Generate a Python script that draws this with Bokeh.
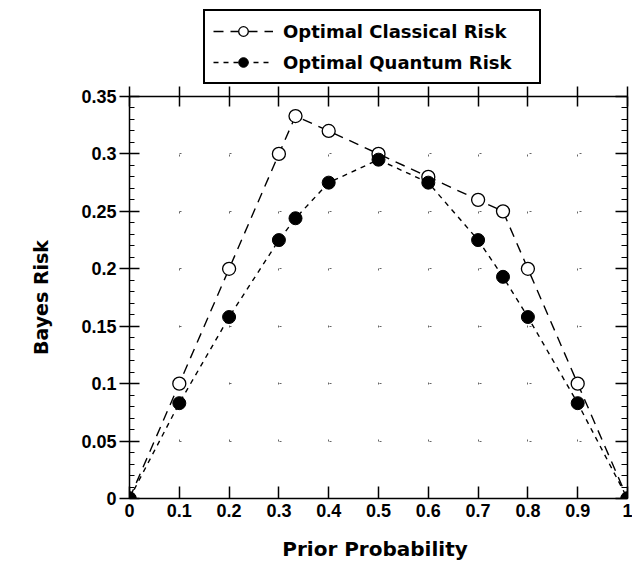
from bokeh.plotting import figure
from bokeh.layouts import column
from bokeh.models import Range1d, LinearAxis, FixedTicker, Legend, LegendItem
from bokeh.embed import file_html
from bokeh.resources import INLINE

# ---- data ----
prior = [0.0, 0.1, 0.2, 0.3, 1/3, 0.4, 0.5, 0.6, 0.7, 0.75, 0.8, 0.9, 1.0]
classical_risk = [0.0, 0.100, 0.200, 0.300, 0.333, 0.320, 0.300, 0.280, 0.260, 0.250, 0.200, 0.100, 0.0]
quantum_risk = [0.0, 0.083, 0.158, 0.225, 0.244, 0.275, 0.295, 0.275, 0.225, 0.193, 0.158, 0.083, 0.0]

x_ticks = [0.0, 0.1, 0.2, 0.3, 0.4, 0.5, 0.6, 0.7, 0.8, 0.9, 1.0]
x_tick_labels = ["0", "0.1", "0.2", "0.3", "0.4", "0.5", "0.6", "0.7", "0.8", "0.9", "1"]
y_ticks = [0.0, 0.05, 0.1, 0.15, 0.2, 0.25, 0.3, 0.35]
y_tick_labels = ["0", "0.05", "0.1", "0.15", "0.2", "0.25", "0.3", "0.35"]
y_minor_ticks = [i / 100 for i in range(0, 36)]

series_names = ["Optimal Classical Risk", "Optimal Quantum Risk"]

TICK_FONT = "Liberation Sans"
LABEL_FONT = "DejaVu Sans"

CLASSICAL_STYLE = dict(line_color="black", line_width=1.4, line_dash="10 7")
QUANTUM_STYLE = dict(line_color="black", line_width=1.4, line_dash="5 5")
CLASSICAL_MARK = dict(marker="circle", size=13, fill_color="white", line_color="black", line_width=1.3)
QUANTUM_MARK = dict(marker="circle", size=13, fill_color="black", line_color="black")

LEG_H = 84

# ---- legend strip (separate figure above the plot; series kept out of view) ----
pl = figure(width=632, height=LEG_H, output_backend="svg", toolbar_location=None,
            x_range=Range1d(0, 1), y_range=Range1d(5, 6),
            x_axis_location=None, y_axis_location=None,
            min_border_top=0, min_border_bottom=0,
            background_fill_color="white", border_fill_color="white")
pl.outline_line_color = None
pl.xgrid.visible = False
pl.ygrid.visible = False
lc_line = pl.line(prior, classical_risk, **CLASSICAL_STYLE)
lc_pts = pl.scatter(prior, classical_risk, **CLASSICAL_MARK)
lq_line = pl.line(prior, quantum_risk, **QUANTUM_STYLE)
lq_pts = pl.scatter(prior, quantum_risk, **QUANTUM_MARK)
legend = Legend(items=[LegendItem(label=series_names[0], renderers=[lc_line, lc_pts]),
                       LegendItem(label=series_names[1], renderers=[lq_line, lq_pts])],
                location=(74, 0), orientation="vertical",
                border_line_color="black", border_line_width=2.5, border_line_alpha=1.0,
                label_text_font=LABEL_FONT, label_text_font_style="bold",
                label_text_font_size="18px", label_text_color="black",
                glyph_width=60, glyph_height=24, label_standoff=10, label_width=248,
                spacing=7, padding=8, margin=0,
                background_fill_color="white", background_fill_alpha=1.0)
pl.add_layout(legend, "center")

# ---- main plot ----
p = figure(width=632, height=571 - LEG_H, output_backend="svg", toolbar_location=None,
           x_range=Range1d(0, 1), y_range=Range1d(0, 0.35),
           min_border_left=129, min_border_right=5, min_border_top=96 - LEG_H,
           min_border_bottom=73,
           background_fill_color="white", border_fill_color="white")
p.outline_line_color = None

# grid as sparse dots
p.xgrid.ticker = FixedTicker(ticks=x_ticks)
p.ygrid.ticker = FixedTicker(ticks=y_ticks)
p.xgrid.grid_line_color = "#666666"
p.xgrid.grid_line_dash = "2 55"
p.ygrid.grid_line_color = "#666666"
p.ygrid.grid_line_dash = "2 48"

def style_axis(ax, ticks, labels):
    ax.axis_line_color = "black"
    ax.axis_line_width = 1.5
    ax.major_tick_line_color = "black"
    ax.major_tick_line_width = 1.5
    ax.minor_tick_line_color = "black"
    ax.minor_tick_line_width = 1.2
    ax.major_label_text_font = TICK_FONT
    ax.major_label_text_font_style = "bold"
    ax.major_label_text_font_size = "18px"
    ax.major_label_text_color = "black"
    if labels is None:
        ax.major_label_overrides = {t: "" for t in ticks}
        ax.major_label_standoff = 0
    else:
        ax.major_label_overrides = {t: l for t, l in zip(ticks, labels)}

# bottom axis
bx = p.xaxis[0]
bx.ticker = FixedTicker(ticks=x_ticks)
style_axis(bx, x_ticks, x_tick_labels)
bx.major_tick_in = 12
bx.major_tick_out = 0
bx.major_label_standoff = 5
bx.axis_label = "Prior  Probability"
bx.axis_label_text_font = LABEL_FONT
bx.axis_label_text_font_style = "bold"
bx.axis_label_text_font_size = "20px"
bx.axis_label_text_color = "black"
bx.axis_label_standoff = 17

# left axis
ly = p.yaxis[0]
ly.ticker = FixedTicker(ticks=y_ticks, minor_ticks=y_minor_ticks)
style_axis(ly, y_ticks, y_tick_labels)
ly.major_tick_in = 10
ly.major_tick_out = 10
ly.minor_tick_in = 5
ly.minor_tick_out = 0
ly.major_label_standoff = 3
ly.axis_label = "Bayes Risk"
ly.axis_label_text_font = LABEL_FONT
ly.axis_label_text_font_style = "bold"
ly.axis_label_text_font_size = "19px"
ly.axis_label_text_color = "black"
ly.axis_label_standoff = 26

# right axis
ry = LinearAxis(ticker=FixedTicker(ticks=y_ticks, minor_ticks=y_minor_ticks))
style_axis(ry, y_ticks, None)
ry.major_tick_in = 12
ry.major_tick_out = 0
ry.minor_tick_in = 6
ry.minor_tick_out = 0
p.add_layout(ry, "right")

# top axis
tx = LinearAxis(ticker=FixedTicker(ticks=x_ticks))
style_axis(tx, x_ticks, None)
tx.major_tick_in = 10
tx.major_tick_out = 10
tx.minor_tick_line_color = None
p.add_layout(tx, "above")

# series
p.line(prior, classical_risk, **CLASSICAL_STYLE)
p.scatter(prior, classical_risk, **CLASSICAL_MARK)
p.line(prior, quantum_risk, **QUANTUM_STYLE)
p.scatter(prior, quantum_risk, **QUANTUM_MARK)

layout = column(pl, p, spacing=0)
open("out.html", "w").write(file_html(layout, INLINE))
